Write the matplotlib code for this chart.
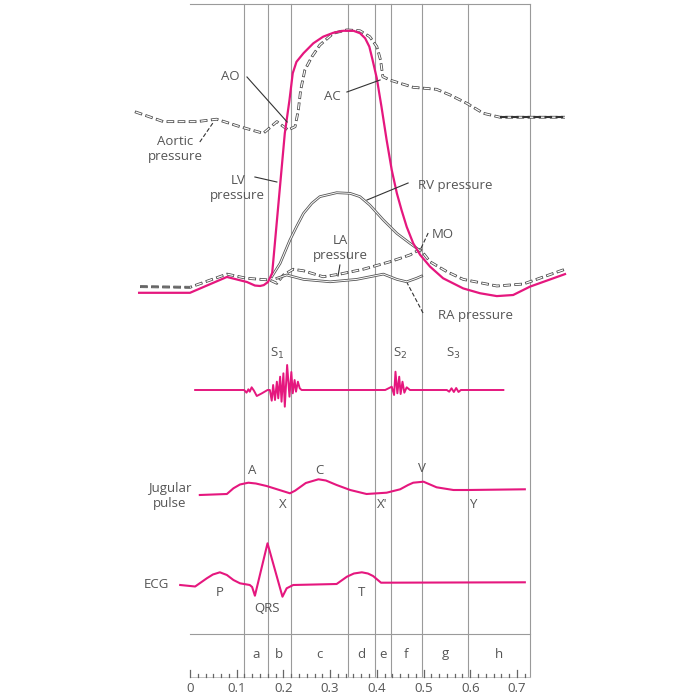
# Wiggers diagram: pressures, heart sounds, jugular pulse, ECG
import numpy as np
import matplotlib.pyplot as plt

plt.rcParams['font.family'] = ['Open Sans', 'DejaVu Sans']
plt.rcParams['lines.scale_dashes'] = False

# ---- data (time in s) ----
# pressures, mmHg
lv_t = [-0.109, 0.0, 0.079, 0.122, 0.139, 0.150, 0.158, 0.167, 0.176, 0.203,
        0.213, 0.220, 0.228, 0.243, 0.264, 0.285, 0.307, 0.328, 0.350, 0.364,
        0.375, 0.384, 0.391, 0.400, 0.410, 0.421, 0.432, 0.443, 0.453, 0.464,
        0.478, 0.493, 0.514, 0.542, 0.585, 0.621, 0.657, 0.692, 0.728, 0.803]
lv_p = [1, 1, 8.2, 5.9, 4.3, 4.1, 4.5, 5.9, 10, 73.5,
        88.6, 100.8, 106, 109.9, 114.4, 117.4, 119.2, 120.1, 120.1, 119,
        116.7, 112.9, 106.8, 98.5, 85.6, 70.5, 56.8, 46.2, 38.6, 31,
        23.5, 18.2, 12.9, 7.6, 3, 0.8, -0.5, 0, 3.8, 9.5]

ao_t = [-0.118, -0.057, 0.014, 0.057, 0.107, 0.157, 0.186, 0.210, 0.225, 0.232,
        0.237, 0.246, 0.261, 0.278, 0.307, 0.336, 0.364, 0.385, 0.400, 0.408,
        0.413, 0.428, 0.478, 0.528, 0.557, 0.593, 0.628, 0.664, 0.803]
ao_p = [83.3, 78.8, 78.8, 79.9, 76.5, 73.5, 78.8, 75, 76.5, 84.1,
        93.2, 102.3, 108.3, 113.6, 119, 120.5, 120.1, 117.4, 112.9, 106.8,
        99.2, 97.7, 94.4, 93.5, 90.9, 87.1, 82.6, 80.8, 80.8]

la_t = [-0.107, 0.0, 0.079, 0.121, 0.171, 0.186, 0.200, 0.221, 0.243, 0.285,
        0.321, 0.371, 0.428, 0.471, 0.493, 0.514, 0.550, 0.585, 0.657, 0.714, 0.803]
la_p = [3.8, 3.5, 9.5, 7.6, 6.8, 5.3, 9.1, 11.7, 11, 8.3,
        9.5, 11.7, 15.1, 18.2, 20.8, 15.1, 10.6, 7.1, 4.1, 5, 11.7]

rv_t = [0.175, 0.193, 0.214, 0.228, 0.243, 0.261, 0.278, 0.314, 0.343, 0.364,
        0.385, 0.414, 0.443, 0.471, 0.493]
rv_p = [8.3, 14.4, 25, 31, 37.1, 41.7, 44.7, 46.5, 46.2, 44.7,
        40.9, 34.1, 28, 23.5, 20.1]

ra_t = [0.186, 0.207, 0.243, 0.300, 0.357, 0.414, 0.443, 0.464, 0.485, 0.496]
ra_p = [7.6, 9.1, 7.1, 6, 7.1, 9.5, 7.1, 6, 7.6, 8.6]

# heart sounds (phonocardiogram), arbitrary units
snd_t = [0.011, 0.116, 0.121, 0.125, 0.128, 0.132, 0.137, 0.143, 0.154, 0.166,
         0.171, 0.175, 0.178, 0.182, 0.186, 0.189, 0.193, 0.196, 0.200, 0.203,
         0.208, 0.213, 0.217, 0.220, 0.224, 0.227, 0.231, 0.235, 0.239,
         0.418, 0.432, 0.437, 0.440, 0.444, 0.448, 0.451, 0.455, 0.459, 0.464, 0.471,
         0.550, 0.555, 0.560, 0.565, 0.570, 0.575, 0.580, 0.671]
snd_a = [0, 0, -2.7, 0.7, -1.7, 2.7, -0.7, -6, -3.3, 0,
         0, -10.7, 5, -10, 8.3, -8.3, 13.3, -11.7, 16.7, -16.7,
         25, -6.7, 18, -3.3, 10, -1.7, 8.3, 1.7, 0,
         0, 3.3, -5, 18.3, -3.3, 13.3, -4, 8.3, -2.7, 2.7, 0,
         0, -1.7, 1.7, -2, 2, -2, 0, 0]

# jugular venous pulse
jvp_t = [0.021, 0.079, 0.093, 0.107, 0.125, 0.141, 0.164, 0.188, 0.214, 0.225,
         0.248, 0.275, 0.291, 0.314, 0.343, 0.378, 0.421, 0.450, 0.467, 0.478,
         0.500, 0.514, 0.528, 0.564, 0.596, 0.717]
jvp_a = [0, 1, 6.7, 10.5, 12.3, 11.5, 9, 5.5, 1.7, 4.3,
         12, 15.7, 14.5, 10, 5, 1, 2.3, 5.7, 10, 12.3,
         13.3, 10.5, 7.7, 5, 5, 5.7]

# ECG
ecg_t = [-0.021, 0.011, 0.036, 0.049, 0.064, 0.079, 0.093, 0.107, 0.128, 0.133,
         0.139, 0.166, 0.198, 0.207, 0.221, 0.314, 0.336, 0.351, 0.368, 0.381,
         0.392, 0.409, 0.717]
ecg_a = [0, -1.5, 6.7, 10.5, 12.7, 10, 5, 1.7, 0, -2,
         -10.7, 41.7, -11.7, -3.3, 0, 1, 8.3, 11.5, 12.7, 11.5,
         9, 2.3, 2.7]

# phases of the cycle
phase_edges = [0.116, 0.166, 0.216, 0.339, 0.396, 0.430, 0.496, 0.596, 0.728]
phase_names = ['a', 'b', 'c', 'd', 'e', 'f', 'g', 'h']
scale_ticks = [0, 0.1, 0.2, 0.3, 0.4, 0.5, 0.6, 0.7]
scale_labels = ['0', '0.1', '0.2', '0.3', '0.4', '0.5', '0.6', '0.7']

MAG = '#e5177e'
TXT = '#555555'
GRID = '#9a9a9a'

fig = plt.figure(figsize=(7, 7), dpi=100)
ax = fig.add_axes([0, 0, 1, 1])
ax.set_xlim(-190 / 467, 510 / 467)
ax.set_ylim(700, 0)
ax.axis('off')


def top(p):
    # pressure panel, mmHg -> rows
    return 295 - 2.2 * np.asarray(p, float)


def hollow(t, y, dashed=True):
    if dashed:
        ax.plot(t, y, color='#4a4a4a', lw=2.0, ls=(0, (5.5, 2.5)),
                dash_capstyle='butt', zorder=3)
        ax.plot(t, y, color='white', lw=0.9, ls=(7.4, (4.3, 3.7)),
                dash_capstyle='butt', zorder=3)
    else:
        ax.plot(t, y, color='#555555', lw=1.9, zorder=3)
        ax.plot(t, y, color='white', lw=0.7, zorder=3)


# frame lines
t_end = phase_edges[-1]
ax.plot([0, t_end], [4, 4], color=GRID, lw=0.8)
ax.plot([0, t_end], [634, 634], color=GRID, lw=0.8)
for e in phase_edges:
    ax.plot([e, e], [4, 677], color=GRID, lw=0.8, zorder=1)

# pressure curves
hollow(ao_t, top(ao_p))
hollow(la_t, top(la_p))
hollow(rv_t, top(rv_p), dashed=False)
hollow(ra_t, top(ra_p), dashed=False)
# solid dashes at the ends
ao_end = [i for i, t in enumerate(ao_t) if t >= 0.664]
ax.plot([ao_t[i] for i in ao_end], top([ao_p[i] for i in ao_end]),
        color='#333333', lw=1.5, ls=(0, (5.5, 2.5)), zorder=4)
la_start = [i for i, t in enumerate(la_t) if t <= 0.0]
ax.plot([la_t[i] for i in la_start], top([la_p[i] for i in la_start]),
        color='#666666', lw=1.3, ls=(0, (5.5, 2.5)), zorder=4)
ax.plot(lv_t, top(lv_p), color=MAG, lw=1.6, zorder=5)

# other traces
ax.plot(snd_t, 390 - np.asarray(snd_a), color=MAG, lw=1.4, zorder=5)
ax.plot(jvp_t, 495 - np.asarray(jvp_a), color=MAG, lw=1.5, zorder=5)
ax.plot(ecg_t, 585 - np.asarray(ecg_a), color=MAG, lw=1.5, zorder=5)

fs = 9.5
tk = dict(color=TXT, fontsize=fs, ha='center', va='center')


def lead(t0, y0, t1, y1, dashed=False):
    ax.plot([t0, t1], [y0, y1], color='#333333', lw=0.8,
            ls=(0, (3, 1.5)) if dashed else '-', zorder=6)


ax.text(0.086, 77, 'AO', **tk)
lead(0.122, 77, 0.208, 122)
ax.text(0.304, 97, 'AC', **tk)
lead(0.336, 92, 0.407, 80)
ax.text(-0.032, 149, 'Aortic\npressure', linespacing=1.25, **tk)
lead(0.021, 142, 0.049, 123, dashed=True)
ax.text(0.102, 188, 'LV\npressure', linespacing=1.25, **tk)
lead(0.139, 177, 0.186, 182)
ax.text(0.488, 185, 'RV pressure', color=TXT, fontsize=fs, ha='left', va='center')
lead(0.467, 183, 0.379, 200)
ax.text(0.321, 248, 'LA\npressure', linespacing=1.25, **tk)
lead(0.321, 265, 0.317, 276)
ax.text(0.518, 235, 'MO', color=TXT, fontsize=fs, ha='left', va='center')
lead(0.510, 233, 0.493, 250, dashed=True)
ax.text(0.531, 315, 'RA pressure', color=TXT, fontsize=fs, ha='left', va='center')
lead(0.499, 313, 0.465, 283, dashed=True)

ax.text(0.186, 353, 'S$_1$', **tk)
ax.text(0.450, 353, 'S$_2$', **tk)
ax.text(0.563, 353, 'S$_3$', **tk)

ax.text(0.133, 470, 'A', **tk)
ax.text(0.278, 470, 'C', **tk)
ax.text(0.497, 469, 'V', **tk)
ax.text(0.199, 505, 'X', **tk)
ax.text(0.411, 505, "X'", **tk)
ax.text(0.606, 505, 'Y', **tk)
ax.text(-0.043, 496, 'Jugular\npulse', linespacing=1.25, **tk)

ax.text(0.064, 593, 'P', **tk)
ax.text(0.165, 608, 'QRS', **tk)
ax.text(0.368, 593, 'T', **tk)
ax.text(-0.071, 585, 'ECG', **tk)

# phase letters
for name, a, b in zip(phase_names, phase_edges[:-1], phase_edges[1:]):
    ax.text((a + b) / 2, 654, name, **tk)

# time scale
ax.plot([0, t_end], [677, 677], color='#bbbbbb', lw=0.6)
for k in range(int(t_end * 60) + 1):
    t = k / 60
    h = 7 if k % 6 == 0 else 3.5
    ax.plot([t, t], [677, 677 - h], color='#666666', lw=0.9)
for t, lab in zip(scale_ticks, scale_labels):
    ax.text(t, 689, lab, **tk)

fig.savefig('out.png', dpi=100)
